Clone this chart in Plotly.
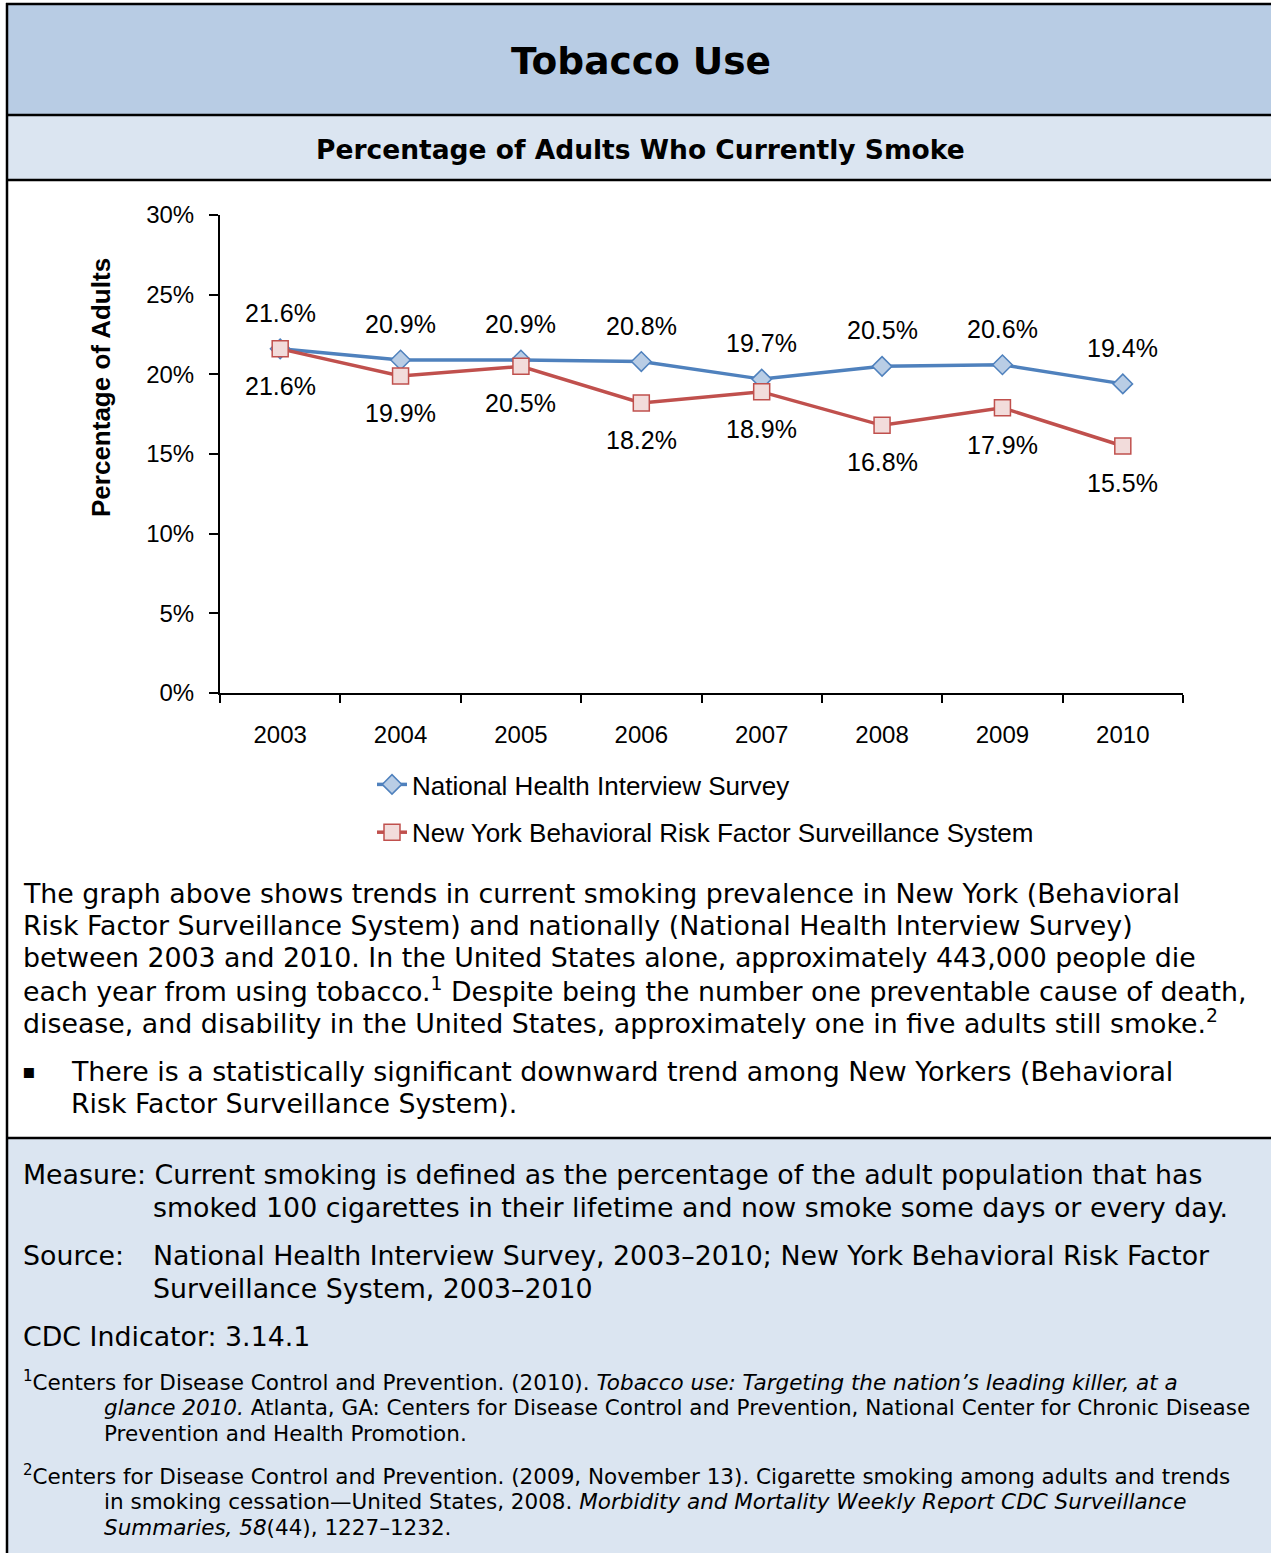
import plotly.graph_objects as go

W, H = 1271, 1553

years = ["2003", "2004", "2005", "2006", "2007", "2008", "2009", "2010"]
nhis = [21.6, 20.9, 20.9, 20.8, 19.7, 20.5, 20.6, 19.4]
nybrfss = [21.6, 19.9, 20.5, 18.2, 18.9, 16.8, 17.9, 15.5]
y_ticks = [0, 5, 10, 15, 20, 25, 30]
y_ticktext = [f"{v}%" for v in y_ticks]
series_names = ["National Health Interview Survey",
                "New York Behavioral Risk Factor Surveillance System"]

BLUE, BLUE_FILL = "#4F81BD", "#B9CDE5"
RED, RED_FILL = "#C0504D", "#F2DCDB"
HEAD, SUB = "#B8CCE4", "#DBE5F1"
ARIAL = "Liberation Sans, Arial, sans-serif"
VERD = "DejaVu Sans, Verdana, sans-serif"


def px(x):
    return x / W


def py(y):
    return 1 - y / H


fig = go.Figure()
fig.add_trace(go.Scatter(
    x=years, y=nhis, mode="lines+markers", name=series_names[0],
    legendgroup="a",
    line=dict(color=BLUE, width=3.5),
    marker=dict(symbol="diamond", size=15, color=BLUE_FILL,
                line=dict(color=BLUE, width=1.5)),
))
fig.add_trace(go.Scatter(
    x=years, y=nybrfss, mode="lines+markers", name=series_names[1],
    legendgroup="b",
    line=dict(color=RED, width=3.5),
    marker=dict(symbol="square", size=16, color=RED_FILL,
                line=dict(color=RED, width=1.5)),
))

annotations = []
for i, v in enumerate(nhis):
    annotations.append(dict(x=i, y=v, xref="x", yref="y", text=f"{v}%",
                            showarrow=False, yshift=36,
                            font=dict(family=ARIAL, size=25, color="black")))
for i, v in enumerate(nybrfss):
    annotations.append(dict(x=i, y=v, xref="x", yref="y", text=f"{v}%",
                            showarrow=False, yshift=-37,
                            font=dict(family=ARIAL, size=25, color="black")))


def txt(x, y, text, size=24, bold=False, family=VERD, anchor="left"):
    if bold:
        text = f"<b>{text}</b>"
    annotations.append(dict(x=px(x), y=py(y), xref="paper", yref="paper",
                            xanchor=anchor, yanchor="middle", text=text,
                            showarrow=False,
                            font=dict(family=family, size=size, color="black")))


BODY = 26.8
FOOT = 21.5

txt(641, 61, "Tobacco Use", size=37.5, bold=True, anchor="center")
txt(640, 149, "Percentage of Adults Who Currently Smoke", size=26.5, bold=True, anchor="center")

annotations.append(dict(x=px(101), y=py(388), xref="paper", yref="paper",
                        xanchor="center", yanchor="middle", textangle=-90,
                        text="<b>Percentage of Adults</b>", showarrow=False,
                        font=dict(family=ARIAL, size=26, color="black")))

body = [
    "The graph above shows trends in current smoking prevalence in New York (Behavioral",
    "Risk Factor Surveillance System) and nationally (National Health Interview Survey)",
    "between 2003 and 2010. In the United States alone, approximately 443,000 people die",
    "each year from using tobacco.<sup>1</sup> Despite being the number one preventable cause of death,",
    "disease, and disability in the United States, approximately one in five adults still smoke.<sup>2</sup>",
]
for i, line in enumerate(body):
    txt(21, 893 + i * 32.3, line, size=BODY)
txt(20, 1071, "▪", size=20)
txt(69, 1071, "There is a statistically significant downward trend among New Yorkers (Behavioral", size=BODY)
txt(69, 1103, "Risk Factor Surveillance System).", size=BODY)

txt(21, 1174, "Measure: Current smoking is defined as the percentage of the adult population that has", size=BODY)
txt(151, 1207, "smoked 100 cigarettes in their lifetime and now smoke some days or every day.", size=BODY)
txt(21, 1255, "Source:", size=BODY)
txt(151, 1255, "National Health Interview Survey, 2003–2010; New York Behavioral Risk Factor", size=BODY)
txt(151, 1288, "Surveillance System, 2003–2010", size=BODY)
txt(21, 1336, "CDC Indicator: 3.14.1", size=BODY)

txt(21, 1381, "<sup>1</sup>Centers for Disease Control and Prevention. (2010). <i>Tobacco use: Targeting the nation’s leading killer, at a</i>", size=FOOT)
txt(102, 1407, "<i>glance 2010.</i> Atlanta, GA: Centers for Disease Control and Prevention, National Center for Chronic Disease", size=FOOT)
txt(102, 1433, "Prevention and Health Promotion.", size=FOOT)
txt(21, 1475, "<sup>2</sup>Centers for Disease Control and Prevention. (2009, November 13). Cigarette smoking among adults and trends", size=FOOT)
txt(102, 1501, "in smoking cessation—United States, 2008. <i>Morbidity and Mortality Weekly Report CDC Surveillance</i>", size=FOOT)
txt(102, 1527, "<i>Summaries, 58</i>(44), 1227–1232.", size=FOOT)

shapes = [
    dict(type="rect", xref="paper", yref="paper", x0=px(7), x1=1.0, y0=py(115), y1=py(4),
         fillcolor=HEAD, line=dict(width=0), layer="below"),
    dict(type="rect", xref="paper", yref="paper", x0=px(7), x1=1.0, y0=py(180), y1=py(115),
         fillcolor=SUB, line=dict(width=0), layer="below"),
    dict(type="rect", xref="paper", yref="paper", x0=px(7), x1=1.0, y0=0, y1=py(1138),
         fillcolor=SUB, line=dict(width=0), layer="below"),
]
for yy in [4, 115, 180, 1138]:
    shapes.append(dict(type="line", xref="paper", yref="paper", x0=px(6), x1=1.0,
                       y0=py(yy), y1=py(yy), line=dict(color="black", width=2.5)))
shapes.append(dict(type="line", xref="paper", yref="paper", x0=px(7), x1=px(7),
                   y0=0, y1=py(3), line=dict(color="black", width=2.5)))

fig.update_layout(
    width=W, height=H,
    margin=dict(l=0, r=0, t=0, b=0, pad=0, autoexpand=False),
    paper_bgcolor="white", plot_bgcolor="rgba(0,0,0,0)",
    annotations=annotations, shapes=shapes,
    showlegend=True,
    legend=dict(x=px(372), y=py(761), xanchor="left", yanchor="top",
                font=dict(family=ARIAL, size=26, color="black"),
                bgcolor="rgba(0,0,0,0)", tracegroupgap=11,
                traceorder="grouped"),
    xaxis=dict(domain=[px(220), px(1183)], type="category", range=[-0.5, 7.5],
               automargin=False,
               showline=True, linecolor="black", linewidth=2,
               ticks="outside", tickson="boundaries", ticklen=8, tickwidth=2,
               tickcolor="black", showgrid=False, zeroline=False,
               ticklabelstandoff=19,
               tickfont=dict(family=ARIAL, size=24, color="black")),
    yaxis=dict(domain=[py(693), py(215)], range=[0, 30],
               automargin=False,
               tickvals=y_ticks, ticktext=y_ticktext,
               showline=True, linecolor="black", linewidth=2,
               ticks="outside", ticklen=9, tickwidth=2, tickcolor="black",
               showgrid=False, zeroline=False, ticklabelstandoff=10,
               tickfont=dict(family=ARIAL, size=24, color="black")),
)

fig.write_html(
    "out.html",
    config={"displayModeBar": False},
    post_script=(
        "document.body.style.margin='0';document.body.style.padding='0';"
        "var gd=document.getElementsByClassName('plotly-graph-div')[0];"
        "gd.style.position='absolute';gd.style.top='0px';gd.style.left='0px';"
    ),
)
